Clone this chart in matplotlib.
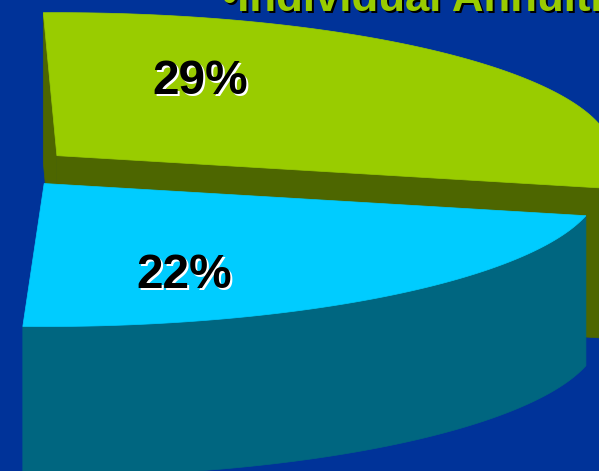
import numpy as np
import matplotlib
matplotlib.use("Agg")
import matplotlib.pyplot as plt
from matplotlib.patches import Polygon

# данные диаграммы
labels = ["29%", "22%"]
shares = [29, 22]
top_colors = ["#99CC00", "#00CCFF"]
side_colors = ["#4D6600", "#006680"]
title = "\u2022Individual Annuities"

W, H = 599, 471
BG = "#003399"

# геометрия 3D-пирога (в пикселях)
cx, cy = -2.0, 168.0
rx, ry = 556.0, 143.0
depth = 150.0
explode = 76.0
boundary = -13.0  # угол между срезами, градусы


def point(ox, oy, theta, z=0.0):
    t = np.radians(theta)
    return ox + rx * np.cos(t), oy - ry * np.sin(t) + z


def draw_slice(ax, a0, a1, top, side):
    mid = np.radians((a0 + a1) / 2)
    ox = cx + explode * np.cos(mid)
    oy = cy - explode * (ry / rx) * np.sin(mid)

    # боковые грани по радиусам
    for ang, visible in ((a0, np.cos(np.radians(a0)) > 0),
                         (a1, np.cos(np.radians(a1)) < 0)):
        if not visible:
            continue
        px, py = point(ox, oy, ang)
        ax.add_patch(Polygon([(ox, oy), (px, py), (px, py + depth),
                              (ox, oy + depth)], closed=True,
                             facecolor=side, edgecolor=side, lw=0.5))

    # внешняя стенка (только передняя часть)
    lo, hi = max(a0, -180.0), min(a1, 0.0)
    if hi > lo:
        th = np.linspace(lo, hi, 200)
        xs, ys = point(ox, oy, th)
        pts = list(zip(xs, ys)) + list(zip(xs[::-1], ys[::-1] + depth))
        ax.add_patch(Polygon(pts, closed=True, facecolor=side,
                             edgecolor=side, lw=0.5))

    # верхняя грань
    th = np.linspace(a0, a1, 300)
    xs, ys = point(ox, oy, th)
    pts = [(ox, oy)] + list(zip(xs, ys))
    ax.add_patch(Polygon(pts, closed=True, facecolor=top,
                         edgecolor=top, lw=0.5))


fig = plt.figure(figsize=(W / 100, H / 100), dpi=100)
fig.patch.set_facecolor(BG)
ax = fig.add_axes([0, 0, 1, 1])
ax.set_xlim(0, W)
ax.set_ylim(H, 0)
ax.axis("off")

spans = [s * 3.6 for s in shares]
# первый срез - задний (против часовой от границы), второй - передний
draw_slice(ax, boundary, boundary + spans[0], top_colors[0], side_colors[0])
draw_slice(ax, boundary - spans[1], boundary, top_colors[1], side_colors[1])

label_pos = [(152, 94), (136, 288)]
for (lx, ly), txt in zip(label_pos, labels):
    ax.text(lx + 2, ly + 2, txt, color="white", fontsize=34.5,
            fontweight="bold", family="Liberation Sans",
            ha="left", va="baseline")
    ax.text(lx, ly, txt, color="black", fontsize=34.5,
            fontweight="bold", family="Liberation Sans",
            ha="left", va="baseline")

ax.text(224, 13, title, color="black", fontsize=31.5, fontweight="bold",
        family="Liberation Sans", ha="left", va="baseline")
ax.text(222, 11, title, color="#99CC00", fontsize=31.5, fontweight="bold",
        family="Liberation Sans", ha="left", va="baseline")

fig.savefig("out.png", dpi=100, facecolor=BG)
